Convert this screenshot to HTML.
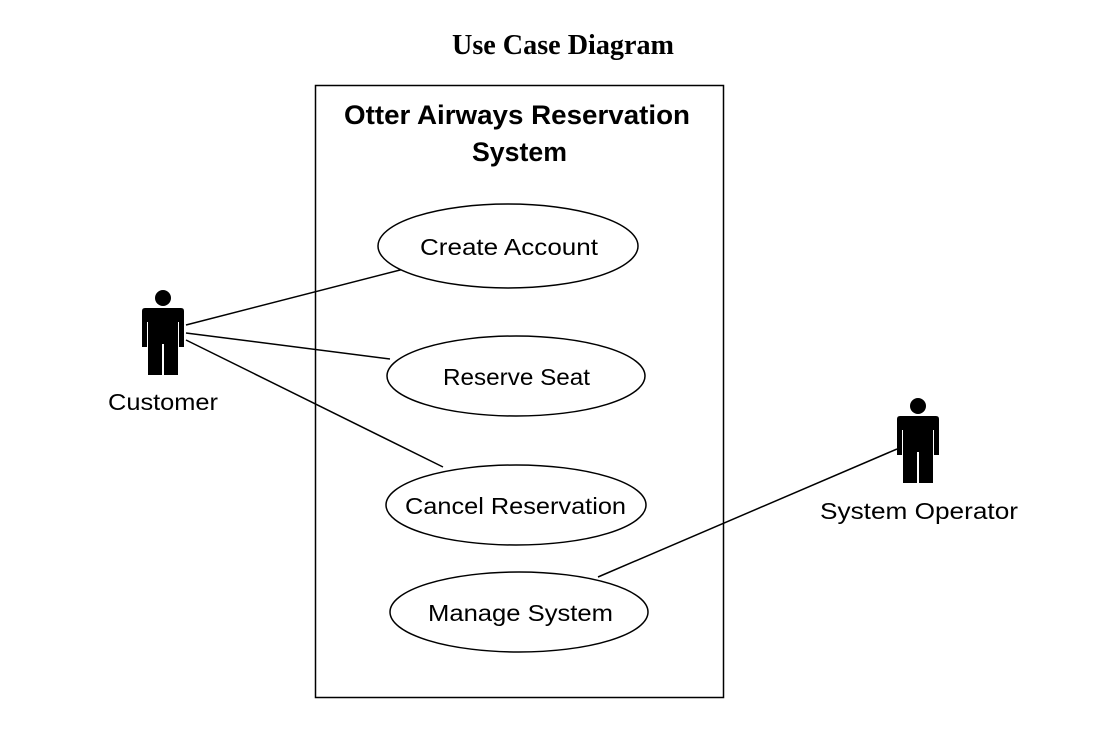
<!DOCTYPE html>
<html><head><meta charset="utf-8"><style>
body{margin:0;background:#fff;}
svg{display:block;}
</style></head><body>
<svg width="1093" height="751" viewBox="0 0 1093 751" xmlns="http://www.w3.org/2000/svg">
<defs>
<g id="actor">
<circle cx="21" cy="0" r="8" fill="#000"/>
<path d="M3,10 H39 Q42,10 42,13 V49 H37 V24 H36 V77 H22 V46 H20 V77 H6 V24 H5 V49 H0 V13 Q0,10 3,10 Z" fill="#000"/>
</g>
</defs>
<text x="452" y="54" font-family="Liberation Serif, serif" font-weight="bold" font-size="28" textLength="222" lengthAdjust="spacingAndGlyphs">Use Case Diagram</text>
<rect x="315.5" y="85.5" width="408" height="612" fill="none" stroke="#000" stroke-width="1.5"/>
<text x="344" y="124" font-family="Liberation Sans, sans-serif" font-weight="bold" font-size="27" textLength="346" lengthAdjust="spacingAndGlyphs">Otter Airways Reservation</text>
<text x="472" y="161" font-family="Liberation Sans, sans-serif" font-weight="bold" font-size="27" textLength="95" lengthAdjust="spacingAndGlyphs">System</text>
<g stroke="#000" stroke-width="1.5" fill="none">
<line x1="186" y1="325" x2="404" y2="269"/>
<line x1="186" y1="333" x2="390" y2="359"/>
<line x1="186" y1="340" x2="443" y2="467"/>
<line x1="598" y1="577" x2="897" y2="449"/>
</g>
<g stroke="#000" stroke-width="1.5" fill="#fff">
<ellipse cx="508" cy="246" rx="130" ry="42"/>
<ellipse cx="516" cy="376" rx="129" ry="40"/>
<ellipse cx="516" cy="505" rx="130" ry="40"/>
<ellipse cx="519" cy="612" rx="129" ry="40"/>
</g>
<g font-family="Liberation Sans, sans-serif" font-size="23" lengthAdjust="spacingAndGlyphs">
<text x="420" y="255" textLength="178" lengthAdjust="spacingAndGlyphs">Create Account</text>
<text x="443" y="385" textLength="147" lengthAdjust="spacingAndGlyphs">Reserve Seat</text>
<text x="405" y="514" textLength="221" lengthAdjust="spacingAndGlyphs">Cancel Reservation</text>
<text x="428" y="621" textLength="185" lengthAdjust="spacingAndGlyphs">Manage System</text>
<text x="108" y="410" textLength="110" lengthAdjust="spacingAndGlyphs">Customer</text>
<text x="820" y="519" textLength="198" lengthAdjust="spacingAndGlyphs">System Operator</text>
</g>
<use href="#actor" x="142" y="298"/>
<use href="#actor" x="897" y="406"/>
</svg>
</body></html>
